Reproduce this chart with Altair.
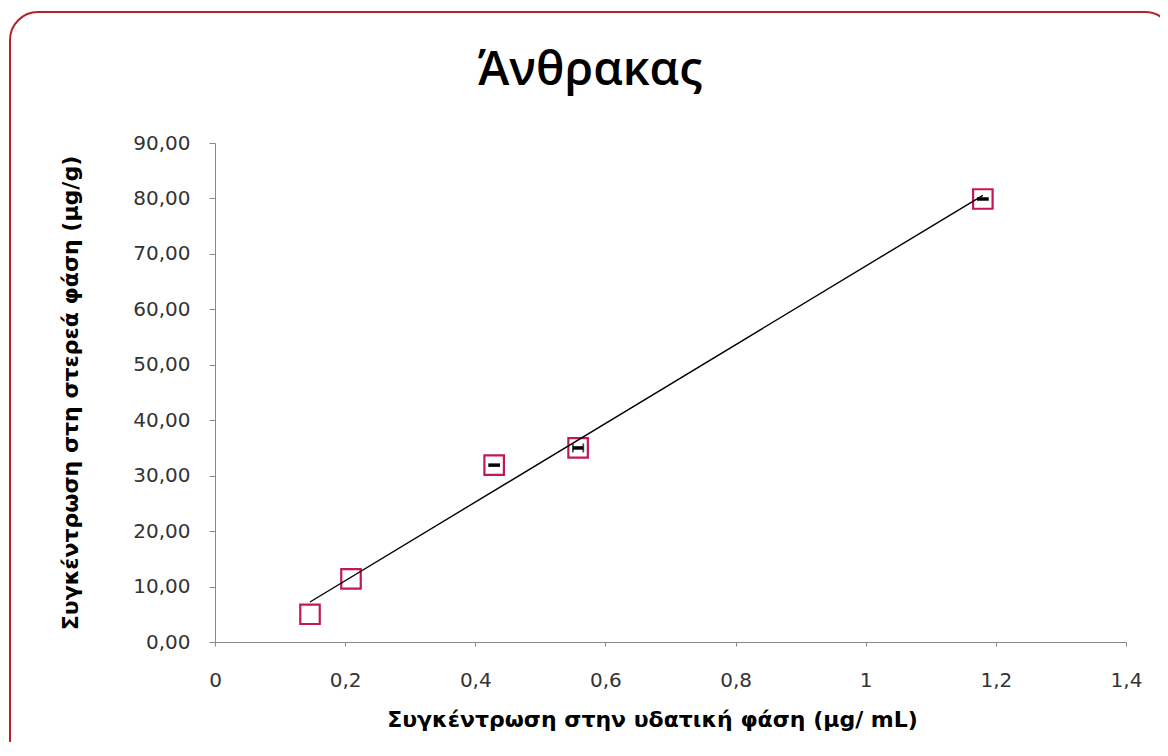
import altair as alt
import pandas as pd

# Data
x_aqueous = [0.146, 0.209, 0.429, 0.558, 1.180]   # μg/mL
y_solid = [5.0, 11.4, 31.9, 35.0, 79.9]           # μg/g
x_error = [0.0, 0.0, 0.009, 0.008, 0.009]
has_caps = [0, 0, 0, 1, 0]

x_ticks = [0, 0.2, 0.4, 0.6, 0.8, 1, 1.2, 1.4]
y_ticks = [0, 10, 20, 30, 40, 50, 60, 70, 80, 90]

title_text = "Άνθρακας"
x_title = "Συγκέντρωση στην υδατική φάση (μg/ mL)"
y_title = "Συγκέντρωση στη στερεά φάση (μg/g)"

df = pd.DataFrame({"x": x_aqueous, "y": y_solid, "err": x_error, "caps": has_caps})
df["lo"] = df["x"] - df["err"]
df["hi"] = df["x"] + df["err"]

W, H = 911, 499
xscale = alt.Scale(domain=[0, 1.4], nice=False)
yscale = alt.Scale(domain=[0, 90], nice=False)

xaxis = alt.Axis(
    values=x_ticks,
    labelExpr="replace(format(datum.value, '~g'), '.', ',')",
    title=x_title,
    titleX=437,
    grid=False,
    tickSize=4,
    labelFlush=False,
    labelPadding=24,
    titlePadding=19,
)
yaxis = alt.Axis(
    values=y_ticks,
    labelExpr="replace(format(datum.value, '.2f'), '.', ',')",
    title=y_title,
    grid=False,
    tickSize=6,
    labelPadding=19,
    titlePadding=50,
)

base = alt.Chart(df)

points = base.mark_point(
    shape="square", size=380, filled=True, fill="white",
    stroke="#c2185b", strokeWidth=2.2, opacity=1
).encode(
    x=alt.X("x:Q", scale=xscale, axis=xaxis),
    y=alt.Y("y:Q", scale=yscale, axis=yaxis),
)

ebars = base.transform_filter("datum.err > 0").mark_rule(
    color="black", strokeWidth=3.5
).encode(
    x=alt.X("lo:Q", scale=xscale),
    x2="hi:Q",
    y=alt.Y("y:Q", scale=yscale),
)

caps = base.transform_filter("datum.caps > 0").transform_fold(
    ["lo", "hi"], as_=["side", "xc"]
).mark_tick(orient="vertical", size=9, thickness=1.8, color="black").encode(
    x=alt.X("xc:Q", scale=xscale),
    y=alt.Y("y:Q", scale=yscale),
)

trend = base.transform_regression("x", "y").mark_line(
    color="black", strokeWidth=1.4
).encode(
    x=alt.X("x:Q", scale=xscale),
    y=alt.Y("y:Q", scale=yscale),
)

title = alt.Chart(pd.DataFrame({"t": [title_text]})).mark_text(
    font="Open Sans", fontSize=47, fontWeight=600, color="black", align="center",
    baseline="alphabetic", clip=False
).encode(
    text="t:N", x=alt.value(375), y=alt.value(-58),
)

border = alt.Chart(pd.DataFrame({"a": [0]})).mark_rect(
    fillOpacity=0, stroke="#b8202a", strokeWidth=2, cornerRadius=28, clip=False
).encode(
    x=alt.value(-205), x2=alt.value(958),
    y=alt.value(-131), y2=alt.value(630),
)

chart = alt.layer(border, title, points, ebars, caps, trend).properties(
    width=W, height=H,
    autosize=alt.AutoSizeParams(type="none"),
    padding={"left": 207, "top": 135, "right": 34, "bottom": 100},
    background="white",
).configure_view(stroke=None).configure_axis(
    domainColor="#888888",
    tickColor="#888888",
    labelFont="DejaVu Sans",
    labelFontSize=20,
    labelColor="#333333",
    titleFont="DejaVu Sans",
    titleFontSize=22,
    titleFontWeight="bold",
    titleColor="black",
)

chart.save("out.html", embed_options={"renderer": "svg", "actions": False})
